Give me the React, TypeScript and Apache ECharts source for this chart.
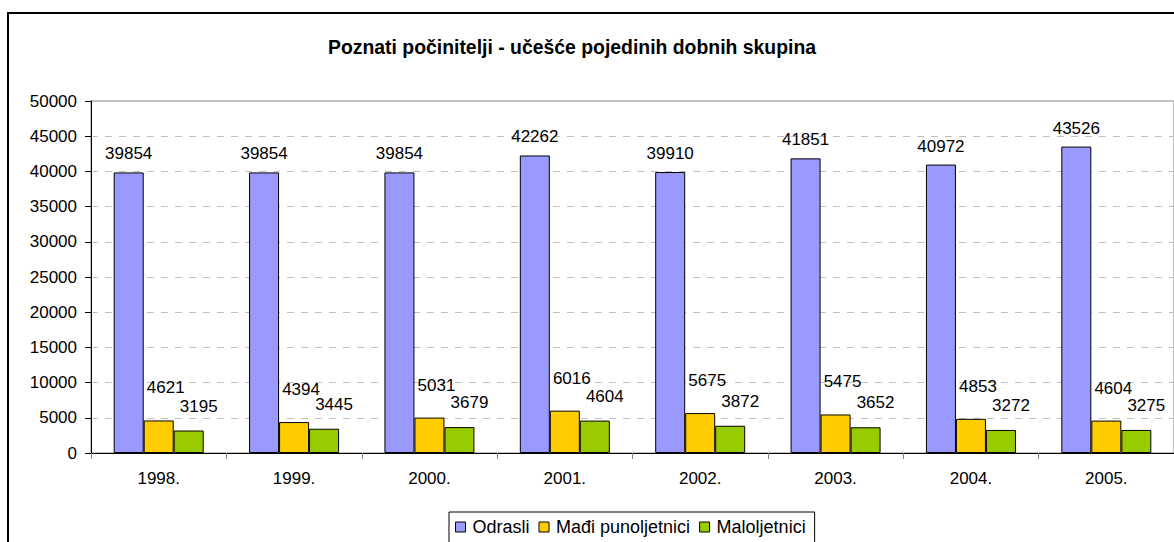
import React, { useEffect, useRef } from "react";
import * as echarts from "echarts";

const titleText = "Poznati počinitelji - učešće pojedinih dobnih skupina";
const categories = ["1998.", "1999.", "2000.", "2001.", "2002.", "2003.", "2004.", "2005."];
const seriesNames = ["Odrasli", "Mađi punoljetnici", "Maloljetnici"];
const odrasli = [39854, 39854, 39854, 42262, 39910, 41851, 40972, 43526];
const madjiPunoljetnici = [4621, 4394, 5031, 6016, 5675, 5475, 4853, 4604];
const maloljetnici = [3195, 3445, 3679, 4604, 3872, 3652, 3272, 3275];
const yTicks = { min: 0, max: 50000, interval: 5000 };

const FONT = "'Liberation Sans', Arial, sans-serif";

export default function App() {
  const ref = useRef<HTMLDivElement>(null);
  useEffect(() => {
    if (!ref.current) return;
    const chart = echarts.init(ref.current, undefined, { renderer: "svg" });
    const labelBase = { show: true, position: "top", color: "#000", fontFamily: FONT, fontSize: 17 };
    chart.setOption({
      animation: false,
      backgroundColor: "#fff",
      title: {
        text: titleText,
        left: 567,
        top: 32,
        textAlign: "center",
        textStyle: { fontFamily: FONT, fontWeight: "bold", fontSize: 19.4, color: "#000" },
      },
      graphic: [
        {
          type: "rect",
          silent: true,
          shape: { x: 8, y: 13, width: 1400, height: 800 },
          style: { fill: "none", stroke: "#000", lineWidth: 2 },
          z: 100,
        },
      ],
      legend: {
        data: seriesNames,
        left: 449,
        top: 512,
        padding: [6, 9, 30, 6],
        itemGap: 9,
        itemWidth: 10,
        itemHeight: 10,
        icon: "rect",
        borderColor: "#000",
        borderWidth: 1,
        textStyle: { fontFamily: FONT, fontSize: 18, color: "#000", padding: [0, 0, 0, 2] },
        itemStyle: { borderColor: "#000", borderWidth: 1 },
      },
      grid: {
        left: 91,
        top: 101,
        right: -2,
        bottom: 89,
        show: true,
        borderColor: "#808080",
        borderWidth: 1,
        containLabel: false,
      },
      xAxis: {
        type: "category",
        data: categories,
        axisLine: { lineStyle: { color: "#000", width: 1 } },
        axisTick: { show: true, length: 6, lineStyle: { color: "#808080" } },
        axisLabel: { fontFamily: FONT, fontSize: 17, color: "#000", margin: 17 },
      },
      yAxis: {
        type: "value",
        min: yTicks.min,
        max: yTicks.max,
        interval: yTicks.interval,
        axisLine: { show: true, lineStyle: { color: "#000", width: 1 } },
        axisTick: { show: true, length: 6, lineStyle: { color: "#000" } },
        axisLabel: {
          fontFamily: FONT,
          fontSize: 17,
          color: "#000",
          margin: 14,
          formatter: (v: number) => String(v),
        },
        splitLine: { show: true, lineStyle: { color: "#c0c0c0", type: [7, 7], width: 1 } },
      },
      series: [
        {
          name: seriesNames[0],
          type: "bar",
          data: odrasli,
          barWidth: 30,
          barGap: "0%",
          itemStyle: { color: "#9999FF", borderColor: "#000", borderWidth: 1 },
          label: { ...labelBase, distance: 10 },
        },
        {
          name: seriesNames[1],
          type: "bar",
          data: madjiPunoljetnici,
          barWidth: 30,
          barGap: "0%",
          itemStyle: { color: "#FFCC00", borderColor: "#000", borderWidth: 1 },
          label: { ...labelBase, distance: 24, offset: [7, 0] },
        },
        {
          name: seriesNames[2],
          type: "bar",
          data: maloljetnici,
          barWidth: 30,
          barGap: "0%",
          itemStyle: { color: "#99CC00", borderColor: "#000", borderWidth: 1 },
          label: { ...labelBase, distance: 16, offset: [10, 0] },
        },
      ],
    });
    return () => chart.dispose();
  }, []);
  return (
    <div
      ref={ref}
      style={{ position: "absolute", left: 0, top: 0, width: 1174, height: 542 }}
    />
  );
}
